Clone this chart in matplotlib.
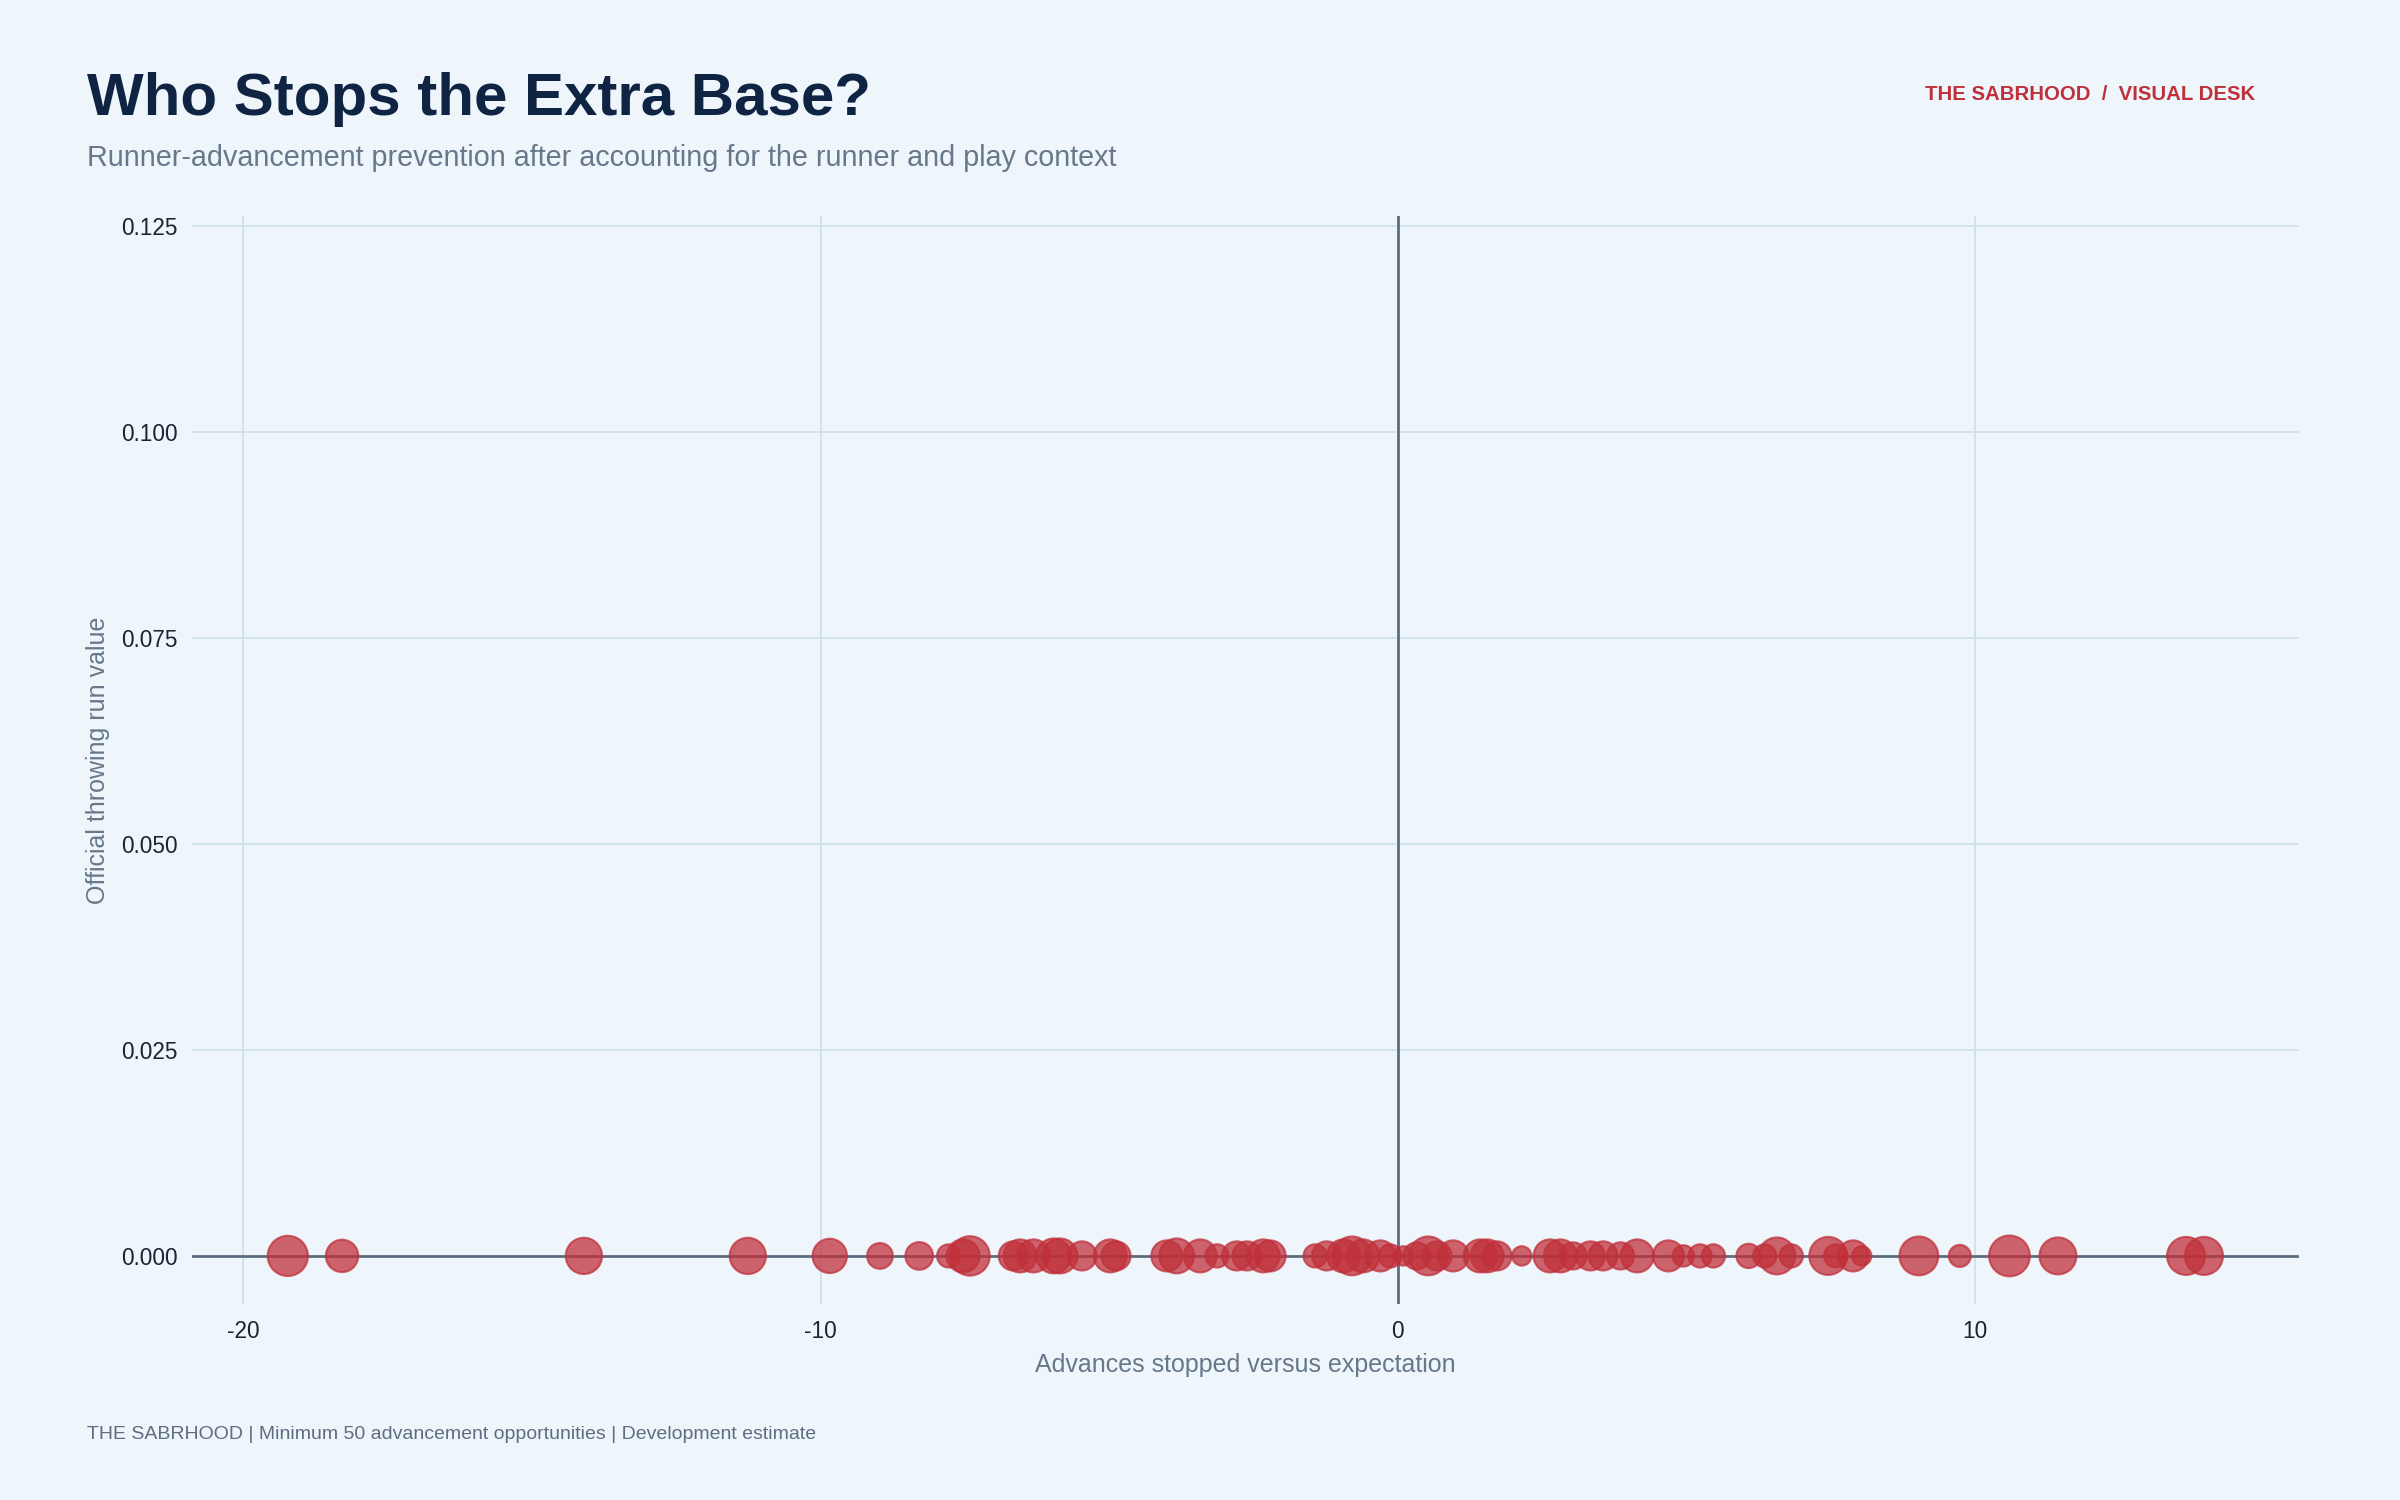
import matplotlib
matplotlib.use("Agg")
import matplotlib.pyplot as plt
import numpy as np

# ---- data ----
advances_stopped = [
    -19.23, -18.29, -14.10, -11.26, -9.84, -8.97, -8.29, -7.78, -7.53, -7.41,
    -6.66, -6.54, -6.31, -5.96, -5.85, -5.47, -4.98, -4.88, -4.00, -3.83,
    -3.42, -3.13, -2.79, -2.61, -2.33, -2.21, -1.43, -1.23, -0.94, -0.79,
    -0.60, -0.30, -0.13, 0.10, 0.33, 0.53, 0.68, 0.96, 1.43, 1.55,
    1.72, 2.15, 2.64, 2.82, 3.04, 3.34, 3.56, 3.86, 4.15, 4.69,
    4.95, 5.24, 5.47, 6.08, 6.36, 6.57, 6.82, 7.46, 7.59, 7.89,
    8.04, 9.03, 9.74, 10.60, 11.44, 13.66, 13.97,
]
throwing_run_value = [0.0] * len(advances_stopped)
opportunities = [
    236, 153, 192, 192, 172, 97, 112, 79, 159, 227,
    124, 159, 159, 178, 178, 124, 159, 124, 141, 178,
    159, 79, 124, 124, 159, 141, 79, 124, 159, 220,
    159, 141, 79, 55, 108, 220, 124, 141, 159, 159,
    124, 55, 159, 159, 108, 124, 124, 108, 159, 141,
    67, 79, 79, 86, 79, 199, 79, 211, 79, 141,
    55, 220, 71, 243, 199, 211, 211,
]
x_ticks = [-20, -10, 0, 10]
y_ticks = [0.0, 0.025, 0.05, 0.075, 0.1, 0.125]

# ---- style ----
BG = "#eef5fb"
RED = "#c0303a"
plt.rcParams["font.family"] = ["Liberation Sans", "DejaVu Sans"]
plt.rcParams["axes.unicode_minus"] = False

fig = plt.figure(figsize=(16, 10), dpi=150, facecolor=BG)
ax = fig.add_axes([0.080, 0.1307, 0.878, 0.7253], facecolor=BG)

ax.set_xlim(-20.89, 15.62)
ax.set_ylim(-0.00583, 0.1262)
ax.set_xticks(x_ticks)
ax.set_yticks(y_ticks)
ax.set_xticklabels([f"{v:d}" for v in x_ticks])
ax.set_yticklabels([f"{v:.3f}" for v in y_ticks])
ax.grid(True, color="#cee0ea", linewidth=0.8, zorder=0)
ax.set_axisbelow(True)
for s in ax.spines.values():
    s.set_visible(False)
ax.tick_params(length=0, labelsize=10.8, labelcolor="#1a2433")
ax.tick_params(axis="x", pad=7.5)
ax.tick_params(axis="y", pad=7)

ax.axhline(0, color="#5b6b7e", linewidth=1.3, zorder=1)
ax.axvline(0, color="#5b6b7e", linewidth=1.3, zorder=1)

sizes = np.array(opportunities, dtype=float) * 1.58
ax.scatter(advances_stopped, throwing_run_value, s=sizes,
           facecolor=RED, edgecolor=RED, alpha=0.74, linewidth=1.0, zorder=3)

ax.set_xlabel("Advances stopped versus expectation", fontsize=12,
              color="#66788a", labelpad=5)
ax.set_ylabel("Official throwing run value", fontsize=12,
              color="#66788a", labelpad=5)

fig.text(0.0363, 0.9233, "Who Stops the Extra Base?", fontsize=28.8,
         fontweight="bold", color="#0f2342", va="baseline", ha="left")
fig.text(0.0363, 0.8893,
         "Runner-advancement prevention after accounting for the runner and play context",
         fontsize=13.8, color="#66788a", va="baseline", ha="left")
fig.text(0.9396, 0.9333, "THE SABRHOOD  /  VISUAL DESK", fontsize=9.8,
         fontweight="bold", color=RED, va="baseline", ha="right")
fig.text(0.0363, 0.0407,
         "THE SABRHOOD | Minimum 50 advancement opportunities | Development estimate",
         fontsize=9.35, color="#5e6e80", va="baseline", ha="left")

fig.savefig("out.png", dpi=150, facecolor=BG)
